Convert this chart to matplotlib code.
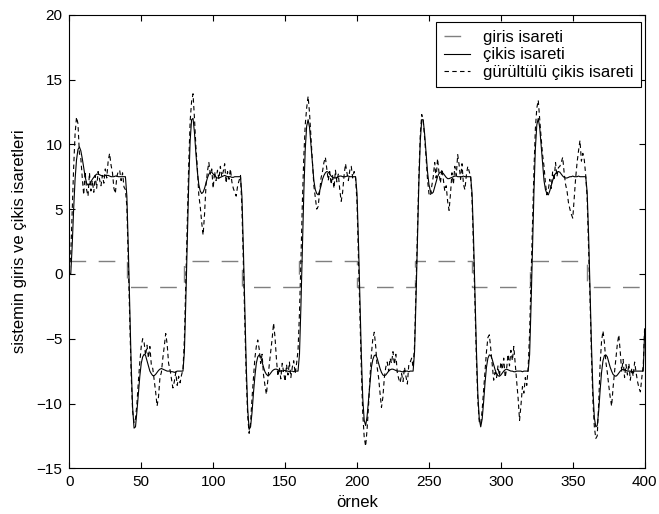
import numpy as np
import matplotlib
matplotlib.use("Agg")
import matplotlib.pyplot as plt

plt.rcParams['font.family'] = ['Liberation Sans', 'DejaVu Sans']

# giris isareti: kare dalga seviyeleri (her 40 ornekte degisiyor)
giris_x = [0, 40, 80, 120, 160, 200, 240, 280, 320, 360, 400]
giris_y = [1, -1, 1, -1, 1, -1, 1, -1, 1, -1, -1]

# cikis isareti (sistem cikisi), ornek 0..400
cikis = [
    # 0-39
    0.0, 0.0, 2.2, 5.0, 7.3, 8.8, 9.6, 9.8, 9.5, 8.9, 8.2, 7.5, 7.0, 6.85, 6.9, 7.1, 7.3, 7.45, 7.6, 7.7,
    7.7, 7.65, 7.6, 7.55, 7.55, 7.6, 7.6, 7.6, 7.55, 7.5, 7.5, 7.5, 7.55, 7.55, 7.5, 7.5, 7.5, 7.5, 7.5, 7.5,
    # 40-79
    6.0, 2.0, -2.5, -7.0, -10.3, -11.9, -11.8, -10.6, -9.2, -7.9, -6.9, -6.4, -6.2, -6.3, -6.7, -7.1, -7.5, -7.7, -7.85, -7.85,
    -7.75, -7.6, -7.45, -7.35, -7.3, -7.35, -7.4, -7.45, -7.5, -7.5, -7.5, -7.55, -7.55, -7.6, -7.55, -7.5, -7.5, -7.5, -7.5, -7.5,
    # 80-119
    -6.0, -2.0, 2.6, 7.0, 10.3, 11.9, 12.0, 10.9, 9.3, 7.9, 6.9, 6.4, 6.2, 6.3, 6.6, 7.0, 7.4, 7.7, 7.85, 7.85,
    7.7, 7.6, 7.45, 7.4, 7.4, 7.45, 7.5, 7.55, 7.6, 7.55, 7.5, 7.5, 7.5, 7.45, 7.45, 7.5, 7.5, 7.5, 7.5, 7.5,
    # 120-159
    6.0, 1.9, -2.6, -7.1, -10.4, -12.0, -11.8, -10.7, -9.2, -7.9, -6.9, -6.4, -6.25, -6.4, -6.8, -7.2, -7.55, -7.75, -7.85, -7.8,
    -7.65, -7.5, -7.4, -7.35, -7.35, -7.4, -7.45, -7.5, -7.5, -7.45, -7.45, -7.5, -7.5, -7.55, -7.5, -7.5, -7.55, -7.5, -7.5, -7.5,
    # 160-199
    -6.2, -2.5, 1.8, 6.2, 9.6, 11.4, 11.9, 11.3, 9.9, 8.4, 7.2, 6.5, 6.2, 6.1, 6.4, 6.8, 7.3, 7.6, 7.8, 7.9,
    7.85, 7.7, 7.55, 7.45, 7.4, 7.4, 7.45, 7.5, 7.55, 7.55, 7.5, 7.5, 7.5, 7.55, 7.55, 7.5, 7.5, 7.5, 7.5, 7.5,
    # 200-239
    6.2, 2.5, -1.8, -6.2, -9.6, -11.3, -11.7, -11.0, -9.7, -8.3, -7.2, -6.6, -6.3, -6.25, -6.5, -6.9, -7.3, -7.6, -7.8, -7.85,
    -7.8, -7.65, -7.5, -7.4, -7.35, -7.35, -7.4, -7.45, -7.5, -7.5, -7.5, -7.55, -7.55, -7.5, -7.5, -7.5, -7.55, -7.5, -7.5, -7.5,
    # 240-279
    -6.0, -2.0, 2.5, 7.0, 10.3, 11.9, 11.9, 10.8, 9.3, 7.9, 6.9, 6.4, 6.2, 6.3, 6.7, 7.1, 7.5, 7.75, 7.85, 7.85,
    7.75, 7.6, 7.45, 7.35, 7.35, 7.4, 7.45, 7.5, 7.55, 7.55, 7.5, 7.5, 7.5, 7.5, 7.55, 7.5, 7.5, 7.5, 7.5, 7.5,
    # 280-319
    6.2, 2.8, -1.5, -5.8, -9.3, -11.2, -11.8, -11.2, -9.9, -8.4, -7.2, -6.5, -6.25, -6.3, -6.6, -7.0, -7.4, -7.7, -7.85, -7.9,
    -7.8, -7.65, -7.5, -7.4, -7.35, -7.4, -7.45, -7.5, -7.5, -7.55, -7.55, -7.5, -7.5, -7.5, -7.5, -7.55, -7.5, -7.5, -7.5, -7.5,
    # 320-359
    -6.2, -2.4, 1.9, 6.3, 9.7, 11.5, 12.0, 11.3, 9.9, 8.4, 7.2, 6.5, 6.2, 6.1, 6.4, 6.8, 7.2, 7.55, 7.75, 7.85,
    7.9, 7.85, 7.7, 7.55, 7.45, 7.4, 7.4, 7.45, 7.5, 7.5, 7.55, 7.5, 7.5, 7.5, 7.55, 7.5, 7.5, 7.5, 7.5, 7.5,
    # 360-400
    6.3, 3.0, -1.2, -5.5, -9.0, -11.1, -11.8, -11.7, -10.6, -9.0, -7.6, -6.7, -6.3, -6.25, -6.4, -6.8, -7.2, -7.5, -7.75, -7.85,
    -7.9, -7.8, -7.65, -7.5, -7.4, -7.35, -7.4, -7.45, -7.5, -7.5, -7.5, -7.55, -7.5, -7.5, -7.5, -7.5, -7.5, -7.5, -7.5, -7.5,
    -4.3,
]

# gurultulu cikis isareti, ornek 0..400
gurultulu = [
    # 0-39
    0.3, 1.5, 4.8, 8.2, 10.8, 12.1, 11.6, 9.3, 8.9, 7.4, 6.1, 7.9, 6.5, 6.0, 7.8, 6.4, 7.2, 6.3, 7.6, 6.6,
    7.9, 7.3, 6.8, 7.6, 7.0, 8.1, 7.4, 8.7, 9.3, 8.4, 7.8, 6.6, 6.2, 7.5, 7.9, 8.0, 7.2, 7.8, 6.7, 6.5,
    # 40-79
    5.2, 1.0, -3.5, -7.8, -10.6, -11.5, -11.2, -10.0, -8.3, -6.8, -5.6, -5.0, -5.3, -6.3, -5.5, -6.5, -5.6, -7.0, -7.3, -8.2,
    -9.1, -10.2, -9.5, -8.0, -7.6, -6.5, -5.6, -4.6, -5.4, -6.9, -7.4, -8.1, -8.8, -8.3, -7.6, -8.6, -7.9, -8.4, -7.8, -7.4,
    # 80-119
    -5.0, -0.5, 4.2, 8.5, 11.8, 13.3, 13.9, 12.0, 9.8, 8.2, 6.1, 5.2, 4.0, 3.0, 4.6, 6.8, 7.9, 8.6, 7.7, 8.1,
    6.6, 7.9, 7.2, 8.0, 7.3, 8.3, 7.5, 7.9, 8.5, 7.0, 7.9, 7.3, 8.1, 7.1, 6.6, 6.3, 6.0, 6.8, 7.2, 7.6,
    # 120-159
    5.0, 0.8, -3.8, -8.0, -11.0, -12.3, -11.5, -9.6, -8.0, -6.5, -5.6, -5.1, -5.8, -6.9, -6.2, -7.8, -8.6, -9.3, -8.2, -7.0,
    -6.0, -5.0, -3.8, -4.9, -6.6, -7.9, -7.2, -8.1, -6.9, -7.6, -8.3, -7.0, -7.8, -6.8, -8.0, -7.2, -6.7, -7.7, -6.9, -5.9,
    # 160-199
    -3.0, 1.0, 5.5, 9.0, 11.5, 12.8, 13.7, 12.4, 10.5, 8.6, 6.8, 5.9, 5.0, 5.2, 6.3, 7.4, 7.9, 8.6, 9.0, 8.1,
    7.2, 7.9, 6.9, 7.6, 6.6, 8.0, 7.1, 7.7, 6.5, 5.6, 6.3, 7.6, 8.5, 7.8, 7.2, 8.0, 8.3, 7.4, 7.9, 7.4,
    # 200-239
    5.5, 1.2, -3.0, -7.4, -10.8, -12.6, -13.3, -12.0, -10.2, -8.0, -6.2, -5.0, -4.5, -5.6, -7.2, -8.0, -9.2, -10.3, -9.5, -8.0,
    -7.2, -6.8, -7.5, -6.5, -6.9, -6.0, -7.0, -6.2, -7.6, -8.1, -8.4, -7.7, -8.3, -7.2, -7.9, -8.5, -7.0, -6.8, -6.5, -7.2,
    # 240-279
    -5.5, -1.2, 3.2, 7.6, 10.8, 12.3, 11.8, 10.5, 9.0, 7.3, 6.2, 6.0, 6.8, 7.5, 8.6, 7.4, 8.9, 7.8, 7.0, 8.1,
    7.3, 6.4, 6.8, 5.6, 4.9, 6.2, 7.8, 6.9, 8.3, 7.6, 9.2, 8.4, 7.3, 8.5, 6.9, 6.5, 7.6, 8.3, 7.9, 7.5,
    # 280-319
    5.6, 1.9, -2.5, -6.6, -9.8, -11.4, -11.6, -10.5, -9.0, -7.4, -6.0, -4.9, -4.7, -5.8, -7.0, -8.2, -7.6, -8.0, -7.1, -7.9,
    -6.8, -7.4, -6.5, -8.0, -7.3, -6.2, -7.1, -5.9, -6.7, -5.6, -7.0, -8.3, -9.6, -11.3, -10.1, -8.7, -9.2, -8.0, -8.6, -7.2,
    # 320-359
    -4.5, -0.3, 3.8, 8.0, 11.2, 12.8, 13.4, 11.9, 10.5, 9.2, 8.3, 7.0, 6.1, 6.5, 7.3, 6.6, 7.9, 7.2, 8.6, 7.5,
    8.2, 8.3, 8.6, 9.0, 7.8, 6.9, 6.4, 5.5, 5.0, 4.6, 4.3, 5.9, 7.4, 8.6, 9.5, 10.3, 8.7, 9.3, 8.8, 7.6,
    # 360-400
    5.8, 2.0, -2.0, -6.4, -9.8, -11.8, -12.7, -12.5, -10.0, -7.0, -5.2, -4.4, -5.3, -6.8, -7.6, -8.6, -9.5, -10.2, -8.8, -7.6,
    -6.5, -5.4, -4.7, -6.0, -7.5, -6.6, -8.0, -7.0, -7.8, -6.9, -8.2, -7.3, -7.9, -6.8, -7.6, -8.3, -8.8, -9.1, -8.0, -7.0,
    -4.0,
]

ornek = np.arange(len(cikis))

fig = plt.figure(figsize=(6.59, 5.14), dpi=100)
ax = fig.add_axes([0.1052, 0.0889, 0.8731, 0.8825])

ax.plot(giris_x, giris_y, drawstyle='steps-post', color='#7f7f7f', lw=1.0,
        dashes=(12, 9), label='giris isareti')
ax.plot(ornek, cikis, color='black', lw=0.8, label='çikis isareti')
ax.plot(ornek, gurultulu, color='black', lw=0.8, dashes=(4, 3),
        label='gürültülü çikis isareti')

ax.set_xlim(0, 400)
ax.set_ylim(-15, 20)
ax.set_xticks(np.arange(0, 401, 50))
ax.set_yticks(np.arange(-15, 21, 5))
ax.tick_params(direction='in', length=4, width=0.8, top=True, right=True,
               labelsize=11, pad=5)
for s in ax.spines.values():
    s.set_linewidth(0.8)

ax.set_xlabel('örnek', fontsize=12, labelpad=4)
ax.set_ylabel('sistemin giris ve çikis isaretleri', fontsize=12, labelpad=7)

leg = ax.legend(loc='upper right', bbox_to_anchor=(0.993, 0.983), fontsize=12,
                fancybox=False, framealpha=1, edgecolor='black',
                borderaxespad=0, handlelength=1.6, handletextpad=0.75,
                labelspacing=0.15, borderpad=0.45)
leg.get_frame().set_linewidth(0.8)

fig.savefig('out.png', dpi=100)
